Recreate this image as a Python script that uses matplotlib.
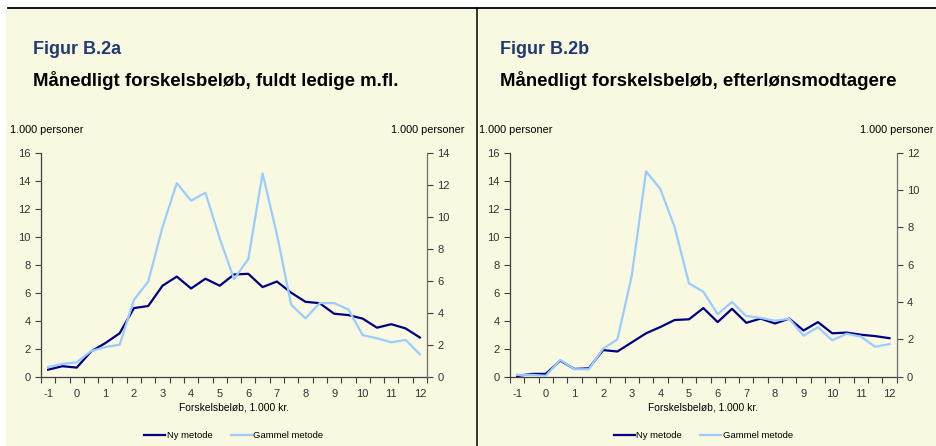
import numpy as np
import matplotlib.pyplot as plt
from matplotlib.lines import Line2D
from matplotlib.patches import Rectangle

# ====================== data ======================
kategorier = [-1, -0.5, 0, 0.5, 1, 1.5, 2, 2.5, 3, 3.5, 4, 4.5, 5, 5.5, 6, 6.5,
              7, 7.5, 8, 8.5, 9, 9.5, 10, 10.5, 11, 11.5, 12]
x_labels = ["-1", "0", "1", "2", "3", "4", "5", "6", "7", "8", "9", "10", "11", "12"]

# Figur B.2a, fuldt ledige m.fl. (1.000 personer)
ny_a = [0.5, 0.75, 0.65, 1.8, 2.4, 3.1, 4.9, 5.05, 6.5, 7.15, 6.3, 7.0, 6.5, 7.3,
        7.35, 6.4, 6.8, 6.0, 5.35, 5.25, 4.5, 4.4, 4.15, 3.5, 3.75, 3.45, 2.8]
# hoejre akse
gammel_a = [0.6, 0.8, 0.9, 1.6, 1.85, 2.0, 4.8, 5.95, 9.35, 12.1, 11.0, 11.5, 8.65, 6.1,
            7.35, 12.7, 8.9, 4.5, 3.65, 4.6, 4.6, 4.2, 2.6, 2.4, 2.15, 2.3, 1.4]

# Figur B.2b, efterloensmodtagere (1.000 personer)
ny_b = [0.05, 0.2, 0.2, 1.15, 0.55, 0.6, 1.9, 1.8, 2.45, 3.1, 3.55, 4.05, 4.1, 4.9,
        3.9, 4.85, 3.85, 4.15, 3.8, 4.15, 3.3, 3.9, 3.1, 3.15, 3.0, 2.9, 2.75]
# hoejre akse
gammel_b = [0.1, 0.1, 0.05, 0.9, 0.4, 0.4, 1.5, 2.0, 5.4, 11.0, 10.05, 8.0, 5.0, 4.55,
            3.35, 4.0, 3.25, 3.15, 3.0, 3.1, 2.2, 2.65, 1.95, 2.3, 2.15, 1.6, 1.75]

# ====================== stil ======================
BG = '#F9F8E1'
NY_COLOR = '#000080'
GAMMEL_COLOR = '#99CCFF'
TITLE_COLOR = '#1F3B73'
TXT = '#333333'

plt.rcParams['font.family'] = ['Liberation Sans', 'DejaVu Sans']

W, H = 936, 446
fig = plt.figure(figsize=(W / 100, H / 100), dpi=100)
fig.patch.set_facecolor('white')

# baggrund og rammer
fig.add_artist(Rectangle((6 / W, 0), 1, 1 - 9 / H, transform=fig.transFigure,
                         facecolor=BG, edgecolor='none', zorder=-10))
fig.add_artist(Line2D([8 / W, 1], [1 - 8 / H, 1 - 8 / H], transform=fig.transFigure,
                      color='black', lw=1.3))
fig.add_artist(Line2D([477 / W, 477 / W], [0, 1 - 8 / H], transform=fig.transFigure,
                      color='black', lw=1.1))


def panel(left_px, right_px, ny, gammel, ymax2, title, subtitle, text_left, enhed_h_x):
    bottom_px, top_px = 376.7, 152.7
    ax = fig.add_axes([left_px / W, 1 - bottom_px / H,
                       (right_px - left_px) / W, (bottom_px - top_px) / H])
    ax.set_facecolor('none')
    idx = np.arange(len(kategorier))

    ax.plot(idx, ny, color=NY_COLOR, lw=1.6, zorder=3)
    ax.set_ylim(0, 16)
    ax.set_yticks(range(0, 17, 2))
    ax.set_xlim(-0.5, len(kategorier) - 0.5)
    ax.set_xticks(np.arange(-0.5, len(kategorier), 1.0))
    ax.set_xticklabels([])
    ax.set_xticks(idx[::2], minor=True)
    ax.set_xticklabels(x_labels, minor=True)
    ax.tick_params(axis='x', which='major', length=4, width=0.8, colors='#404040')
    ax.tick_params(axis='x', which='minor', length=0, pad=9, labelsize=8, labelcolor=TXT)
    ax.tick_params(axis='y', length=4, width=0.8, colors='#404040', labelsize=8,
                   labelcolor=TXT)
    for s in ['top', 'right']:
        ax.spines[s].set_visible(False)
    for s in ['left', 'bottom']:
        ax.spines[s].set_color('#404040')
        ax.spines[s].set_linewidth(0.9)

    ax2 = ax.twinx()
    ax2.plot(idx, gammel, color=GAMMEL_COLOR, lw=1.6, zorder=3)
    ax2.set_ylim(0, ymax2)
    ax2.set_yticks(range(0, ymax2 + 1, 2))
    ax2.tick_params(axis='y', length=4, width=0.8, colors='#404040', labelsize=8,
                    labelcolor=TXT)
    for s in ['top', 'left', 'bottom']:
        ax2.spines[s].set_visible(False)
    ax2.spines['right'].set_color('#707070')
    ax2.spines['right'].set_linewidth(0.9)

    # overskrifter
    fig.text(text_left / W, 1 - 50 / H, title, fontsize=13, fontweight='bold',
             color=TITLE_COLOR, va='center', ha='left')
    fig.text(text_left / W, 1 - 80 / H, subtitle, fontsize=13.4, fontweight='bold',
             color='black', va='center', ha='left')

    # akse-enheder
    fig.text((left_px - 31) / W, 1 - 130 / H, '1.000 personer', fontsize=7.8,
             color='black', va='center', ha='left')
    fig.text(enhed_h_x / W, 1 - 130 / H, '1.000 personer', fontsize=7.8,
             color='black', va='center', ha='right')

    mid = (left_px + right_px) / 2
    fig.text(mid / W, 1 - 408 / H, 'Forskelsbeløb, 1.000 kr.', fontsize=7.4,
             color='black', va='center', ha='center')

    handles = [Line2D([], [], color=NY_COLOR, lw=1.6),
               Line2D([], [], color=GAMMEL_COLOR, lw=1.6)]
    fig.legend(handles, ['Ny metode', 'Gammel metode'], loc='center',
               bbox_to_anchor=(mid / W, 1 - 436 / H), ncol=2, frameon=False,
               fontsize=6.8, handlelength=2.2, handletextpad=0.2, columnspacing=1.9)
    return ax, ax2


panel(41, 427, ny_a, gammel_a, 14, 'Figur B.2a',
      'Månedligt forskelsbeløb, fuldt ledige m.fl.', 33, 464)
panel(510, 896.7, ny_b, gammel_b, 12, 'Figur B.2b',
      'Månedligt forskelsbeløb, efterlønsmodtagere', 500, 933)

fig.savefig('out.png', dpi=100, facecolor=fig.get_facecolor())
